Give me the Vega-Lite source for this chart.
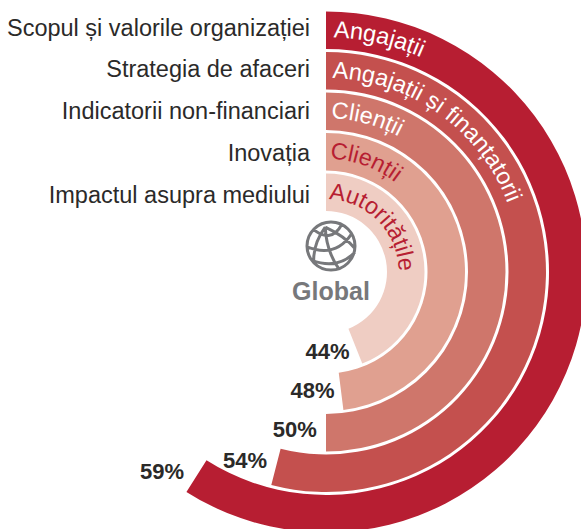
{
  "$schema": "https://vega.github.io/schema/vega-lite/v6.json",
  "width": 652,
  "height": 544,
  "padding": 0,
  "autosize": "none",
  "background": "white",
  "view": {"stroke": null},
  "config": {"font": "Liberation Sans"},
  "datasets": {
    "rings": [
      {"ring": 5, "factor": "Scopul și valorile organizației", "group": "Angajații", "value": 59},
      {"ring": 4, "factor": "Strategia de afaceri", "group": "Angajații și finanțatorii", "value": 54},
      {"ring": 3, "factor": "Indicatorii non-financiari", "group": "Clienții", "value": 50},
      {"ring": 2, "factor": "Inovația", "group": "Clienții", "value": 48},
      {"ring": 1, "factor": "Impactul asupra mediului", "group": "Autoritățile", "value": 44}
    ]
  },
  "layer": [
    {
      "data": {"name": "rings"},
      "transform": [
        {"calculate": "datum.ring + 37.5/40.5", "as": "outer"}
      ],
      "mark": {"type": "arc"},
      "encoding": {
        "theta": {"field": "value", "type": "quantitative", "stack": null, "scale": {"domain": [0, 100], "range": [0, 6.283185]}},
        "theta2": {"datum": 0},
        "radius": {"field": "outer", "type": "quantitative", "scale": {"type": "linear", "zero": false, "domain": [1, 6], "range": [61, 263.5]}},
        "radius2": {"field": "ring"},
        "color": {"field": "ring", "type": "ordinal", "legend": null, "scale": {"domain": [1, 2, 3, 4, 5], "range": ["#efcdc3", "#e0a090", "#cf766b", "#c4504e", "#b71e32"]}}
      }
    },
    {
      "data": {"name": "rings"},
      "transform": [
        {"calculate": "1 + (76.5 - 61 + 41.75 * (datum.ring - 1)) / 40.5", "as": "rowPos"},
        {"calculate": "0", "as": "origin"}
      ],
      "mark": {"type": "text", "align": "right", "baseline": "middle", "dx": -16, "fontSize": 23.5, "color": "#2b2a29"},
      "encoding": {
        "theta": {"field": "origin", "type": "quantitative", "stack": null, "scale": {"domain": [0, 100], "range": [0, 6.283185]}},
        "radius": {"field": "rowPos", "type": "quantitative", "scale": {"type": "linear", "zero": false, "domain": [1, 6], "range": [61, 263.5]}},
        "text": {"field": "factor"}
      }
    },
    {
      "data": {"name": "rings"},
      "transform": [
        {"calculate": "datum.ring + (datum.ring == 5 ? 0.87 : datum.ring == 4 ? 0.58 : 0.46)", "as": "labelPos"},
        {"calculate": "61 + 40.5 * (datum.labelPos - 1)", "as": "labelPx"},
        {"calculate": "datum.value + (datum.ring <= 2 ? 28.5 : 31.5) / datum.labelPx * 100 / (2 * PI)", "as": "labelTheta"},
        {"calculate": "datum.value + '%'", "as": "pct"}
      ],
      "mark": {"type": "text", "align": "center", "baseline": "middle", "fontSize": 22, "fontWeight": "bold", "color": "#2b2a29"},
      "encoding": {
        "theta": {"field": "labelTheta", "type": "quantitative", "stack": null, "scale": {"domain": [0, 100], "range": [0, 6.283185]}},
        "radius": {"field": "labelPos", "type": "quantitative", "scale": {"type": "linear", "zero": false, "domain": [1, 6], "range": [61, 263.5]}},
        "text": {"field": "pct"}
      }
    },
    {
      "data": {"name": "rings"},
      "transform": [
        {"calculate": "split(datum.group, '')", "as": "ch"},
        {"flatten": ["ch"]},
        {"calculate": "datum.ch == 'A' ? 0.667 : datum.ch == 'C' ? 0.722 : indexof('ijl', datum.ch) >= 0 ? 0.222 : indexof('țtf ', datum.ch) >= 0 ? 0.278 : datum.ch == 'r' ? 0.333 : datum.ch == 'ș' ? 0.5 : 0.556", "as": "cw"},
        {"window": [{"op": "sum", "field": "cw", "as": "adv"}], "groupby": ["ring"], "frame": [null, 0], "ignorePeers": true},
        {"calculate": "datum.ring + 0.463", "as": "mid"},
        {"calculate": "61 + 40.5 * (datum.mid - 1) - 7", "as": "basePx"},
        {"calculate": "(1.5 + 1.2 * datum.ring + (datum.adv - datum.cw / 2) * 23.5) / datum.basePx * 100 / (2 * PI)", "as": "chTheta"},
        {"calculate": "datum.chTheta * 3.6", "as": "chAngle"}
      ],
      "mark": {"type": "text", "align": "center", "baseline": "middle", "fontSize": 23.5},
      "encoding": {
        "theta": {"field": "chTheta", "type": "quantitative", "stack": null, "scale": {"domain": [0, 100], "range": [0, 6.283185]}},
        "radius": {"field": "mid", "type": "quantitative", "scale": {"type": "linear", "zero": false, "domain": [1, 6], "range": [61, 263.5]}},
        "angle": {"field": "chAngle", "type": "quantitative", "scale": null},
        "text": {"field": "ch"},
        "color": {"condition": {"test": "datum.ring >= 3", "value": "#ffffff"}, "value": "#b71e32"}
      }
    },
    {
      "data": {"values": [{"icon": "globe", "px": 5, "py": 26}]},
      "mark": {"type": "point", "filled": false, "stroke": "#77787b", "strokeWidth": 3, "opacity": 1, "size": 2304,
        "shape": "M-1,0A1,1 0 1,1 1,0A1,1 0 1,1 -1,0Z M-.24,-.79Q-.75,-.1 -.72,.67 M-.24,-.79Q-.2,.2 .32,.94 M-.24,-.79Q.6,-.4 1,.11 M-.72,-.68Q0,-.1 .45,-.9 M-1,.04Q.2,.5 .85,-.5 M-.8,.6Q.3,1 1,.25"},
      "encoding": {
        "x": {"field": "px", "type": "quantitative", "axis": null, "scale": {"domain": [-326, 326]}},
        "y": {"field": "py", "type": "quantitative", "axis": null, "scale": {"domain": [-272, 272]}}
      }
    },
    {
      "data": {"values": [{"name": "Global", "px": 5, "py": -20}]},
      "mark": {"type": "text", "align": "center", "baseline": "middle", "fontSize": 25, "fontWeight": "bold", "color": "#77787b"},
      "encoding": {
        "x": {"field": "px", "type": "quantitative", "axis": null, "scale": {"domain": [-326, 326]}},
        "y": {"field": "py", "type": "quantitative", "axis": null, "scale": {"domain": [-272, 272]}},
        "text": {"field": "name"}
      }
    }
  ]
}
